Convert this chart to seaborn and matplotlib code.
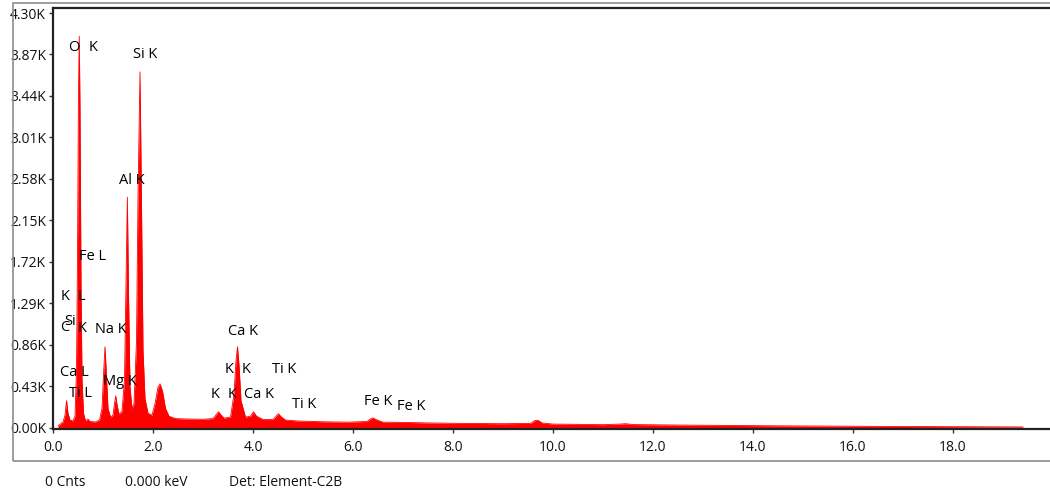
import numpy as np
import pandas as pd
import matplotlib
matplotlib.use("Agg")
import matplotlib.pyplot as plt
import matplotlib.patches as patches
from matplotlib.ticker import FuncFormatter
import seaborn as sns

sns.set_style("ticks")
plt.rcParams['font.family'] = ['Open Sans', 'DejaVu Sans']

# spectrum: energy (keV) and counts
energy_kev = [0.10, 0.15, 0.20, 0.24, 0.27, 0.30, 0.34, 0.40, 0.44, 0.47,
              0.49, 0.51, 0.525, 0.54, 0.56, 0.58, 0.61, 0.65, 0.70, 0.74,
              0.85, 0.93, 0.98, 1.01, 1.04, 1.07, 1.10, 1.15, 1.20, 1.23,
              1.255, 1.28, 1.32, 1.38, 1.43, 1.46, 1.487, 1.51, 1.54, 1.58,
              1.62, 1.67, 1.70, 1.74, 1.77, 1.80, 1.84, 1.90, 1.98, 2.04,
              2.10, 2.14, 2.19, 2.25, 2.32, 2.45, 2.70, 3.00, 3.20, 3.27,
              3.31, 3.35, 3.42, 3.55, 3.62, 3.66, 3.69, 3.72, 3.76, 3.85,
              3.95, 4.01, 4.07, 4.20, 4.40, 4.47, 4.51, 4.56, 4.65, 4.90,
              5.40, 5.90, 6.28, 6.36, 6.40, 6.46, 6.60, 7.06, 7.50, 8.00,
              9.00, 9.55, 9.64, 9.70, 9.78, 10.0, 11.0, 11.35, 11.45, 11.6,
              12.5, 13.5, 14.5, 15.5, 16.5, 17.5, 18.5, 19.4]
counts = [20, 40, 60, 130, 280, 150, 80, 70, 120, 600,
          1800, 3500, 4060, 3300, 1500, 500, 150, 70, 90, 65,
          60, 80, 200, 550, 840, 520, 200, 110, 130, 250,
          330, 240, 140, 170, 500, 1500, 2390, 1400, 420, 200,
          250, 900, 2400, 3690, 2300, 800, 300, 150, 130, 250,
          420, 455, 380, 200, 120, 95, 90, 88, 95, 140,
          165, 140, 100, 110, 350, 700, 840, 650, 280, 110,
          120, 165, 120, 85, 85, 125, 145, 115, 80, 70,
          62, 58, 65, 95, 102, 85, 58, 55, 50, 46,
          42, 45, 75, 78, 50, 38, 32, 38, 42, 33,
          28, 24, 20, 17, 14, 12, 10, 8]

# peak labels: text, left edge (keV), centre height (counts)
label_text = ["O", "K", "Si K", "Al K", "Fe L", "K", "L", "C", "Si", "K",
              "Na K", "Ca L", "Ti L", "Mg K", "Ca K", "K", "K", "Ti K",
              "K", "K", "Ca K", "Ti K", "Fe K", "Fe K"]
label_x = [0.31, 0.72, 1.60, 1.32, 0.52, 0.15, 0.50, 0.14, 0.22, 0.49,
           0.84, 0.15, 0.32, 1.00, 3.49, 3.43, 3.77, 4.38,
           3.15, 3.50, 3.81, 4.79, 6.22, 6.88]
label_y = [3940, 3940, 3865, 2560, 1780, 1360, 1360, 1040, 1100, 1030,
           1020, 570, 350, 475, 995, 600, 600, 600,
           340, 340, 340, 245, 270, 218]

x_ticks = [0, 2, 4, 6, 8, 10, 12, 14, 16, 18]
y_ticks = [0, 430, 860, 1290, 1720, 2150, 2580, 3010, 3440, 3870, 4300]

footer = ["0 Cnts", "0.000 keV", "Det: Element-C2B"]
footer_x = [45, 125, 229]

W, H = 1050, 493
fig = plt.figure(figsize=(W / 100, H / 100), dpi=100)

# outer grey frame
frame = patches.Rectangle((13 / W, 1 - 461 / H), 1.05, (461 - 3) / H,
                          transform=fig.transFigure, fill=False,
                          edgecolor="#8c8c8c", lw=1.2, clip_on=False)
fig.add_artist(frame)

ax = fig.add_axes([53 / W, 1 - 429 / H, 1000 / W, 421 / H])

df = pd.DataFrame({"keV": energy_kev, "cnts": counts})
ax.fill_between(df["keV"], df["cnts"], color="#ff0000", lw=0)
sns.lineplot(data=df, x="keV", y="cnts", color="#ff0000", lw=0.6, ax=ax)

ax.set_xlim(0, 20.0)
ax.set_ylim(-13, 4352)
ax.set_xticks(x_ticks)
ax.set_xticklabels([f"{t:.1f}" for t in x_ticks])
ax.set_yticks(y_ticks)
ax.yaxis.set_major_formatter(FuncFormatter(lambda v, p: f"{v / 1000:.2f}K"))
ax.set_xlabel("")
ax.set_ylabel("")
ax.tick_params(direction="out", length=3, width=1, color="#333333",
               labelsize=10, labelcolor="#111111", pad=2)
ax.tick_params(axis="x", pad=5)

for s in ["left", "top", "bottom"]:
    ax.spines[s].set_color("#222222")
    ax.spines[s].set_linewidth(1.6)
ax.spines["right"].set_visible(False)

for t, x, y in zip(label_text, label_x, label_y):
    ax.text(x, y, t, ha="left", va="center", fontsize=10.5, color="#000000")

for t, x in zip(footer, footer_x):
    fig.text(x / W, 1 - 482 / H, t, ha="left", va="center", fontsize=10,
             color="#111111")

fig.savefig("out.png", dpi=100)
